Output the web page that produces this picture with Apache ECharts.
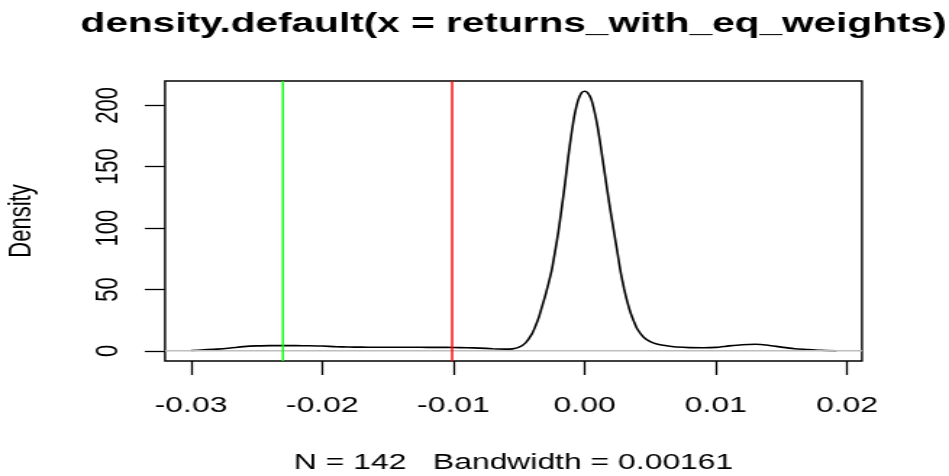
<!DOCTYPE html>
<html><head><meta charset="utf-8">
<script src="https://cdn.jsdelivr.net/npm/echarts@6/dist/echarts.min.js"></script>
<style>
html,body{margin:0;padding:0;background:#fff;overflow:hidden;}
#wrap{width:949px;height:476px;overflow:hidden;background:#fff;}
#chart{width:655px;height:476px;transform:scaleX(1.4489);transform-origin:0 0;}
</style></head><body><div id="wrap"><div id="chart"></div></div>
<script>
const titleText = 'density.default(x = returns_with_eq_weights)';
const subText = 'N = 142   Bandwidth = 0.00161';
const yName = 'Density';
const xTicks = [-0.03, -0.02, -0.01, 0.00, 0.01, 0.02];
const xTickLabels = ['-0.03', '-0.02', '-0.01', '0.00', '0.01', '0.02'];
const yTicks = [0, 50, 100, 150, 200];
const yTickLabels = ['0', '50', '100', '150', '200'];

const xs = [-0.0300, -0.0290, -0.0280, -0.0270, -0.0260, -0.0250, -0.0240, -0.0230, -0.0220, -0.0210,
  -0.0200, -0.0190, -0.0180, -0.0170, -0.0160, -0.0150, -0.0140, -0.0130, -0.0120, -0.0110,
  -0.0100, -0.0090, -0.0080, -0.0070, -0.0060, -0.0055, -0.0050, -0.0045, -0.0040, -0.00375,
  -0.0035, -0.00325, -0.0030, -0.00275, -0.0025, -0.00225, -0.0020, -0.00175, -0.0015, -0.00125,
  -0.0010, -0.00075, -0.0005, -0.00025, 0.0000, 0.00025, 0.0005, 0.00075, 0.0010, 0.00125,
  0.0015, 0.00175, 0.0020, 0.00225, 0.0025, 0.00275, 0.0030, 0.00325, 0.0035, 0.00375,
  0.0040, 0.0045, 0.0050, 0.0055, 0.0060, 0.0065, 0.0070, 0.0080, 0.0090, 0.0100,
  0.0110, 0.0120, 0.0130, 0.0140, 0.0150, 0.0160, 0.0170, 0.0180, 0.0192];
const ys = [0.2, 0.8, 1.4, 2.3, 3.4, 4.0, 4.2, 4.3, 4.2, 4.1,
  3.9, 3.4, 3.1, 3.0, 2.9, 2.9, 2.9, 2.9, 2.8, 2.8,
  2.7, 2.5, 2.2, 1.7, 1.4, 1.6, 3.0, 6.5, 14, 20,
  27, 36, 45, 55, 66, 81, 97, 116, 136, 158,
  177, 193, 204, 210, 211.5, 210, 205, 195, 182, 165,
  147, 129, 112, 96, 80, 64, 51, 40, 31, 24,
  18, 11, 7.5, 5.5, 4.5, 3.7, 3.1, 2.6, 2.5, 2.8,
  4.0, 5.0, 5.4, 4.6, 3.0, 1.7, 1.1, 0.4, 0.1];

const greenX = -0.0230;
const redX = -0.0101;
const zeroY = 0;

const xMin = -0.03198, xMax = 0.02114;
const yMin = -8.3, yMax = 219.8;

function lookup(v, ticks, labels) {
  let best = 0, d = Infinity;
  ticks.forEach((t, i) => { const e = Math.abs(t - v); if (e < d) { d = e; best = i; } });
  return labels[best];
}

const chart = echarts.init(document.getElementById('chart'), null, {renderer: 'canvas'});
const FONT = 'Liberation Sans, Arial, sans-serif';
const plotLeft = 113.9, plotRight = 60.1, plotTop = 81, plotBottom = 115;
const plotCenterX = plotLeft + (655 - plotLeft - plotRight) / 2;

function refLine(points, color, width, z) {
  return {type: 'line', data: points, showSymbol: false, silent: true, z: z,
    lineStyle: {color: color, width: width, type: 'solid'}, clip: true};
}

chart.setOption({
  animation: false,
  backgroundColor: '#ffffff',
  grid: {
    left: plotLeft, right: plotRight, top: plotTop, bottom: plotBottom,
    show: true, borderColor: '#000', borderWidth: 1.4, backgroundColor: 'transparent',
    containLabel: false, outerBoundsMode: 'none'
  },
  graphic: [
    {type: 'text', x: plotCenterX, y: 24, silent: true,
     style: {text: titleText, font: 'bold 28px ' + FONT, fill: '#000', align: 'center', verticalAlign: 'middle'}},
    {type: 'text', x: plotCenterX, y: 463, silent: true,
     style: {text: subText, font: '22px ' + FONT, fill: '#000', align: 'center', verticalAlign: 'middle'}}
  ],
  xAxis: {
    type: 'value', min: xMin, max: xMax,
    axisLine: {show: false, onZero: false},
    splitLine: {show: false},
    axisTick: {show: true, inside: false, length: 14, customValues: xTicks,
      lineStyle: {color: '#000', width: 1.3}},
    axisLabel: {show: true, customValues: xTicks, margin: 34, fontSize: 22, fontFamily: FONT, color: '#000',
      formatter: v => lookup(v, xTicks, xTickLabels)}
  },
  yAxis: {
    type: 'value', min: yMin, max: yMax,
    name: yName, nameLocation: 'middle', nameGap: 88, nameRotate: 90,
    nameTextStyle: {fontSize: 22, fontFamily: FONT, color: '#000'},
    axisLine: {show: false, onZero: false},
    splitLine: {show: false},
    axisTick: {show: true, inside: false, length: 14, customValues: yTicks,
      lineStyle: {color: '#000', width: 1.3}},
    axisLabel: {show: true, customValues: yTicks, rotate: 90, margin: 28, fontSize: 22, fontFamily: FONT, color: '#000',
      formatter: v => lookup(v, yTicks, yTickLabels)}
  },
  series: [
    {
      type: 'line',
      data: xs.map((x, i) => [x, ys[i]]),
      showSymbol: false, smooth: 0.2, silent: true,
      lineStyle: {color: '#000', width: 1.6},
      z: 3
    },
    refLine([[xMin, zeroY], [xMax, zeroY]], '#BEBEBE', 1.6, 4),
    refLine([[greenX, yMin], [greenX, yMax]], '#00FF00', 1.4, 5),
    refLine([[redX, yMin], [redX, yMax]], '#FF0000', 1.4, 5)
  ]
});
</script></body></html>
